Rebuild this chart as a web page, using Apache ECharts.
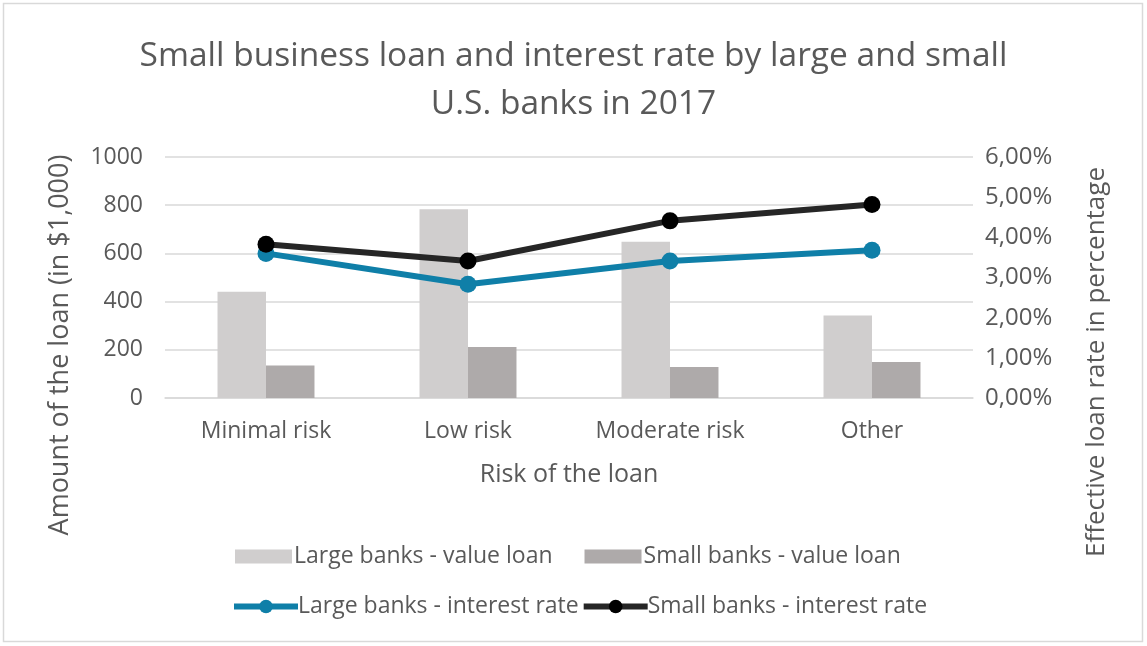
<!DOCTYPE html>
<html>
<head>
<meta charset="utf-8">
<script src="https://cdn.jsdelivr.net/npm/echarts@6/dist/echarts.min.js"></script>
<style>
  html, body { margin: 0; padding: 0; background: #fff; }
  #chart { width: 1147px; height: 646px; }
</style>
</head>
<body>
<div id="chart"></div>
<script>
// Loan amounts (in $1,000) and effective interest rates (%) by risk category
const categories = ['Minimal risk', 'Low risk', 'Moderate risk', 'Other'];
const largeBankLoan = [441, 783, 648, 342];
const smallBankLoan = [135, 212, 129, 149];
const largeBankRate = [3.60, 2.83, 3.41, 3.68];
const smallBankRate = [3.83, 3.41, 4.41, 4.82];

const FONT = '"Open Sans", "Noto Sans", sans-serif';
const TXT = '#595959';

const chart = echarts.init(document.getElementById('chart'));

chart.setOption({
  animation: false,
  backgroundColor: '#ffffff',
  textStyle: { fontFamily: FONT, color: TXT },
  title: {
    text: 'Small business loan and interest rate by large and small\nU.S. banks in 2017',
    left: 'center',
    top: 27,
    textStyle: { fontFamily: FONT, fontSize: 33.5, fontWeight: 'normal', color: TXT, lineHeight: 48 }
  },
  legend: [
    {
      data: ['Large banks - value loan', 'Small banks - value loan'],
      left: 230, top: 540,
      itemWidth: 57, itemHeight: 14, itemGap: 32,
      icon: 'rect',
      textStyle: { fontFamily: FONT, fontSize: 23, color: TXT, padding: [0, 0, 0, -3] }
    },
    {
      data: ['Large banks - interest rate', 'Small banks - interest rate'],
      left: 226, top: 590,
      itemWidth: 64, itemHeight: 17, itemGap: 2,
      lineStyle: { width: 6 },
      textStyle: { fontFamily: FONT, fontSize: 23, color: TXT, padding: [0, 0, 0, -5] }
    }
  ],
  grid: { left: 165, right: 174, top: 157, bottom: 248 },
  xAxis: {
    type: 'category',
    data: categories,
    name: 'Risk of the loan',
    nameLocation: 'middle',
    nameGap: 64,
    nameTextStyle: { fontFamily: FONT, fontSize: 25, color: TXT },
    axisLine: { show: true, lineStyle: { color: '#d9d9d9', width: 1.5 } },
    axisTick: { show: false },
    axisLabel: { fontFamily: FONT, fontSize: 23, color: TXT, margin: 22 }
  },
  yAxis: [
    {
      type: 'value',
      min: 0, max: 1000, interval: 200,
      axisLine: { show: false },
      axisTick: { show: false },
      splitLine: { lineStyle: { color: '#d9d9d9', width: 1.5 } },
      axisLabel: {
        fontFamily: FONT, fontSize: 23, color: TXT, margin: 22,
        formatter: v => String(v)
      }
    },
    {
      type: 'value',
      min: 0, max: 6, interval: 1,
      position: 'right',
      axisLine: { show: false },
      axisTick: { show: false },
      splitLine: { show: false },
      axisLabel: {
        fontFamily: FONT, fontSize: 24, color: TXT, margin: 12,
        formatter: v => v.toFixed(2).replace('.', ',') + '%'
      }
    }
  ],
  series: [
    {
      name: 'Large banks - value loan',
      type: 'bar',
      data: largeBankLoan,
      barWidth: '24%',
      barGap: '0%',
      itemStyle: { color: '#d0cece' }
    },
    {
      name: 'Small banks - value loan',
      type: 'bar',
      data: smallBankLoan,
      barWidth: '24%',
      barGap: '0%',
      itemStyle: { color: '#aeaaaa' }
    },
    {
      name: 'Large banks - interest rate',
      type: 'line',
      yAxisIndex: 1,
      data: largeBankRate,
      symbol: 'circle',
      symbolSize: 17,
      lineStyle: { color: '#0f7fa8', width: 6 },
      itemStyle: { color: '#0f7fa8' },
      z: 5
    },
    {
      name: 'Small banks - interest rate',
      type: 'line',
      yAxisIndex: 1,
      data: smallBankRate,
      symbol: 'circle',
      symbolSize: 17,
      lineStyle: { color: '#262626', width: 6 },
      itemStyle: { color: '#000000' },
      z: 6
    }
  ],
  graphic: [
    {
      type: 'rect',
      shape: { x: 3.5, y: 3.5, width: 1139, height: 638 },
      style: { fill: 'none', stroke: '#d9d9d9', lineWidth: 1.5 },
      silent: true
    },
    {
      type: 'text',
      x: 60, y: 345,
      rotation: Math.PI / 2,
      style: {
        text: 'Amount of the loan (in $1,000)',
        fontFamily: FONT, fontSize: 27, fill: TXT,
        align: 'center', verticalAlign: 'middle'
      }
    },
    {
      type: 'text',
      x: 1097, y: 362,
      rotation: Math.PI / 2,
      style: {
        text: 'Effective loan rate in percentage',
        fontFamily: FONT, fontSize: 26, fill: TXT,
        align: 'center', verticalAlign: 'middle'
      }
    }
  ]
});
</script>
</body>
</html>
